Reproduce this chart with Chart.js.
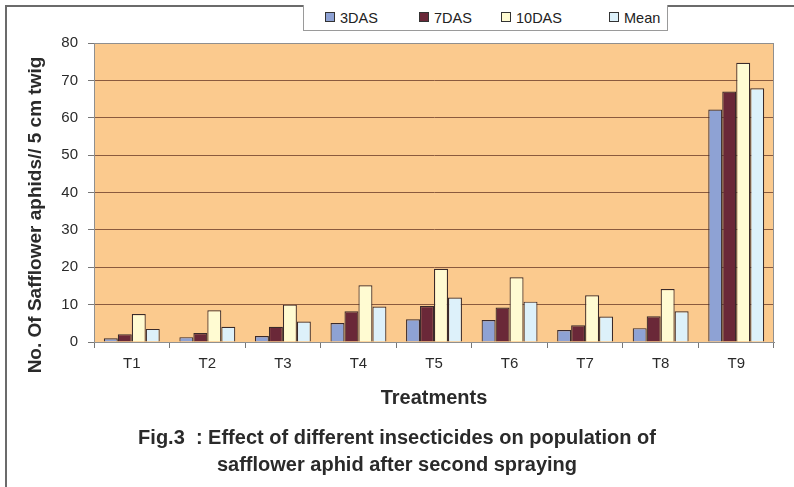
<!DOCTYPE html>
<html>
<head>
<meta charset="utf-8">
<script src="https://cdn.jsdelivr.net/npm/chart.js@4.4.1/dist/chart.umd.min.js"></script>
<style>
  body { margin: 0; background: #fff; font-family: "Liberation Sans", Arial, sans-serif; }
  #wrap { position: relative; width: 794px; height: 487px; overflow: hidden; }
  #frame { position: absolute; left: 5px; top: 5px; width: 900px; height: 600px; border: 2px solid #6b6b6b; box-sizing: border-box; }
  #legend { position: absolute; left: 303px; top: 5px; width: 365px; height: 26px; border: 1px solid #9a9a9a; border-top: none; background: #fff; box-sizing: border-box; }
  .item { position: absolute; top: 5px; font-size: 14.5px; color: #222; white-space: nowrap; line-height: 16px; }
  .sw { display: inline-block; width: 8px; height: 8px; border: 1px solid #333; margin-right: 5px; vertical-align: 1px; }
  canvas { position: absolute; left: 0; top: 0; }
</style>
</head>
<body>
<div id="wrap">
  <div id="frame"></div>
  <canvas id="chart" width="794" height="487"></canvas>
  <div id="legend"></div>
</div>
<script>
'use strict';

// data
const categories = ['T1', 'T2', 'T3', 'T4', 'T5', 'T6', 'T7', 'T8', 'T9'];
const seriesNames = ['3DAS', '7DAS', '10DAS', 'Mean'];
const das3 = [1.0, 1.3, 1.6, 5.1, 6.1, 5.9, 3.2, 3.7, 62.2];
const das7 = [2.1, 2.4, 4.1, 8.2, 9.6, 9.2, 4.5, 6.9, 67.0];
const das10 = [7.5, 8.5, 10.0, 15.2, 19.6, 17.3, 12.5, 14.2, 74.7];
const meanVals = [3.5, 4.1, 5.5, 9.5, 11.9, 10.8, 6.8, 8.2, 67.9];
const yMax = 80;
const yStep = 10;
const yTitle = 'No. Of Safflower aphids// 5 cm twig';

const colors = ['#8ea2d4', '#6a2838', '#fffbd2', '#ddf1fa'];
const legendLeft = [21, 115, 197, 305];
const FONT = '"Liberation Sans", Arial, sans-serif';

// plot area fill, frame and the y title (Excel puts it a bit below centre)
const plotBg = {
  id: 'plotBg',
  beforeDraw(chart) {
    const {ctx, chartArea: a} = chart;
    ctx.save();
    ctx.fillStyle = '#fbca8e';
    ctx.fillRect(a.left, a.top, a.right - a.left, a.bottom - a.top);
    ctx.restore();
  },
  afterDatasetsDraw(chart) {
    const {ctx, chartArea: a} = chart;
    ctx.save();
    ctx.strokeStyle = '#8f8f8f';
    ctx.lineWidth = 1;
    ctx.strokeRect(a.left + 0.5, a.top + 0.5, a.right - a.left - 1, a.bottom - a.top);
    ctx.restore();
  },
  afterDraw(chart) {
    const ctx = chart.ctx;
    ctx.save();
    ctx.translate(36, 215);
    ctx.rotate(-Math.PI / 2);
    ctx.font = 'bold 19px ' + FONT;
    ctx.fillStyle = '#2a2a2a';
    ctx.textAlign = 'center';
    ctx.textBaseline = 'middle';
    ctx.fillText(yTitle, 0, 0);
    ctx.restore();
  }
};

const ctx = document.getElementById('chart').getContext('2d');
const chart = new Chart(ctx, {
  type: 'bar',
  data: {
    labels: categories,
    datasets: [das3, das7, das10, meanVals].map((d, i) => ({
      label: seriesNames[i],
      data: d,
      backgroundColor: colors[i],
      borderColor: '#3a2a2a',
      borderWidth: 1.2,
      categoryPercentage: 0.74,
      barPercentage: 1.0
    }))
  },
  options: {
    responsive: false,
    animation: false,
    layout: { padding: { left: 0, top: 43, right: 0, bottom: 0 } },
    font: { family: FONT },
    plugins: {
      legend: { display: false },
      tooltip: { enabled: false },
      title: {
        display: true,
        position: 'bottom',
        text: ['Fig.3  : Effect of different insecticides on population of',
               'safflower aphid after second spraying'],
        color: '#2a2a2a',
        font: { size: 20, weight: 'bold', lineHeight: 1.35, family: FONT },
        padding: { top: 0, bottom: 8.5 }
      }
    },
    scales: {
      x: {
        afterFit(scale) { scale.height = 82.5; },
        grid: { drawOnChartArea: false, tickLength: 6, color: '#777', offset: true },
        border: { color: '#888' },
        ticks: { color: '#2a2a2a', padding: 7, font: { size: 15 } },
        title: {
          display: true,
          text: 'Treatments',
          color: '#2a2a2a',
          font: { size: 20, weight: 'bold' },
          padding: { top: 0, bottom: 14.5 }
        }
      },
      y: {
        min: 0,
        max: yMax,
        afterFit(scale) { scale.width = 94; },
        grid: { color: '#8a5a3e', tickColor: '#777', tickLength: 6, lineWidth: 1 },
        border: { color: '#888' },
        ticks: { stepSize: yStep, color: '#2a2a2a', padding: 10, font: { size: 15 } }
      },
      // empty spacer on the right so the caption centres on the page
      spacer: {
        type: 'linear',
        position: 'right',
        display: true,
        afterFit(scale) { scale.width = 20; },
        grid: { display: false },
        border: { display: false },
        ticks: { display: false }
      }
    }
  },
  plugins: [plotBg]
});

// legend row, built from the dataset labels/colours
const legend = document.getElementById('legend');
chart.data.datasets.forEach((ds, i) => {
  const it = document.createElement('div');
  it.className = 'item';
  it.style.left = legendLeft[i] + 'px';
  const sw = document.createElement('span');
  sw.className = 'sw';
  sw.style.background = ds.backgroundColor;
  it.appendChild(sw);
  it.appendChild(document.createTextNode(ds.label));
  legend.appendChild(it);
});
</script>
</body>
</html>
